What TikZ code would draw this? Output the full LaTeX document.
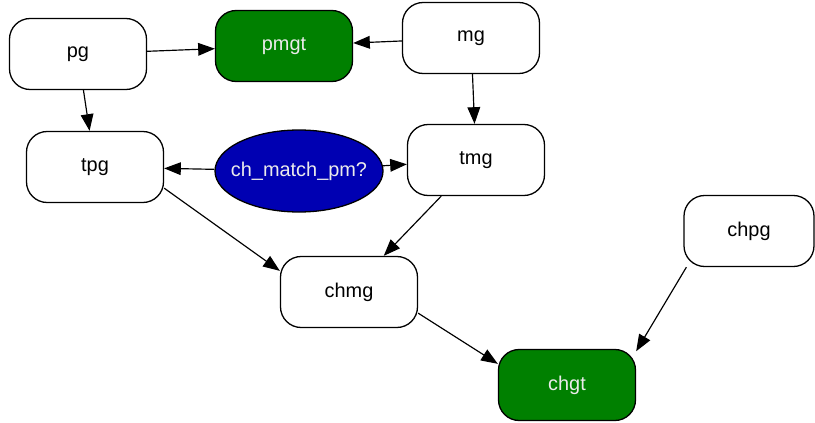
\documentclass[tikz,border=0pt]{standalone}
\usepackage{fontspec}
\setmainfont{Liberation Sans}
\usetikzlibrary{arrows.meta,shapes.geometric}
\definecolor{goalgreen}{RGB}{0,128,0}
\definecolor{testblue}{RGB}{0,0,178}
\definecolor{lighttext}{RGB}{235,235,235}

\begin{document}
\begin{tikzpicture}[x=0.03cm, y=-0.03cm, font=\fontsize{17}{20}\selectfont,
    box/.style={shape=rectangle, rounded corners=0.62cm, draw=black, line width=1.1pt, fill=white, minimum width=4.11cm, minimum height=2.13cm},
    goal/.style={box, fill=goalgreen, text=lighttext},
    test/.style={shape=ellipse, draw=black, line width=1.1pt, fill=testblue, text=lighttext, minimum width=5.04cm, minimum height=2.46cm, inner sep=0pt},
    >={Triangle[length=0.5cm, width=0.38cm]}, line width=1pt]
    \useasboundingbox (0,0) rectangle (815,423);
    \node[box] at (78,54) (pg) {pg};
    \node[goal] at (284,46) (pmgt) {pmgt};
    \node[box] at (471,38) (mg) {mg};
    \node[box] at (95,167) (tpg) {tpg};
    \node[test] at (299,171) (chm) {\makebox[0pt]{ch\_match\_pm?}};
    \node[box] at (476,160) (tmg) {tmg};
    \node[box, minimum width=3.9cm] at (749,231) (chpg) {chpg};
    \node[box] at (349,292) (chmg) {chmg};
    \node[goal] at (567,385) (chgt) {chgt};
    \path [->] (pg) edge (pmgt);
    \path [->] (mg) edge (pmgt);
    \path [->] (pg) edge (tpg);
    \path [->] (mg) edge (tmg);
    \path [->] (chm) edge (tpg);
    \path [->] (chm) edge (tmg);
    \path [->] (tpg.-17) edge (chmg.163);
    \path [->] (tmg) edge (chmg);
    \path [->] (chmg.-17) edge (chgt.163);
    \path [->] (chpg.-150) edge (chgt.26);
\end{tikzpicture}
\end{document}
